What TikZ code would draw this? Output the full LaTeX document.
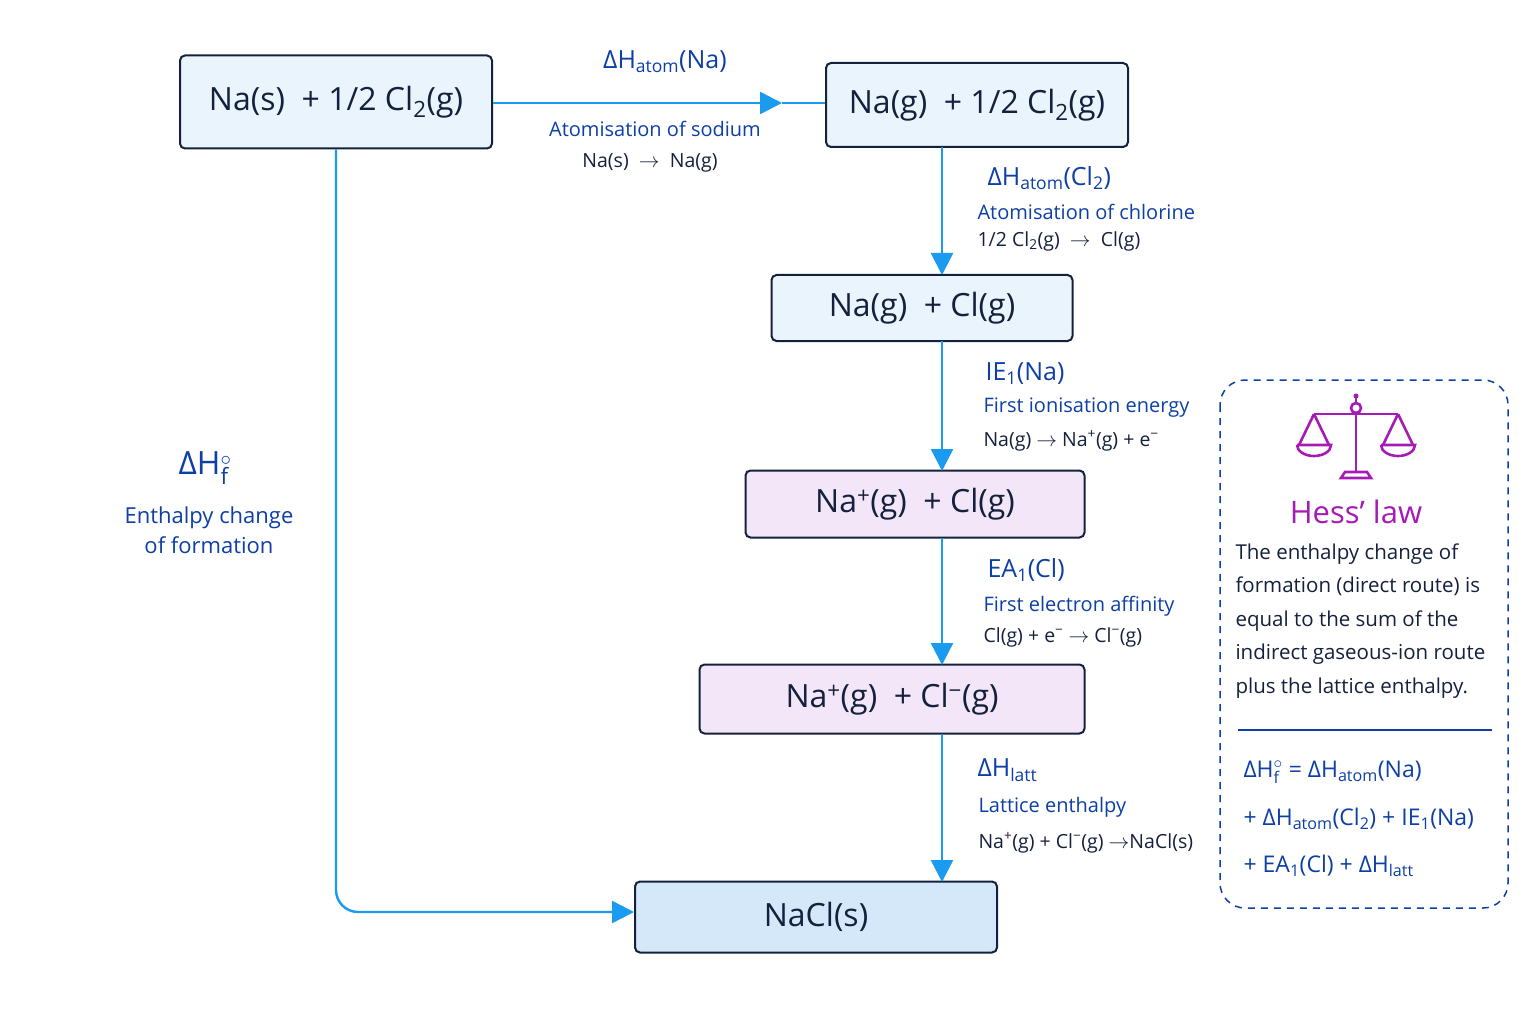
\documentclass[tikz,border=0pt]{standalone}
\usepackage{fontspec}
\setmainfont{Open Sans}
\usetikzlibrary{arrows.meta}
\definecolor{navy}{HTML}{14213D}
\definecolor{lblue}{HTML}{0D3FA6}
\definecolor{arr}{HTML}{1A9BEF}
\definecolor{boxb}{HTML}{EAF4FC}
\definecolor{boxp}{HTML}{F3E6F8}
\definecolor{boxd}{HTML}{D4E8FA}
\definecolor{purp}{HTML}{A61BB5}
\newcommand\lo[1]{\textsubscript{#1}}
\newcommand\hi[1]{\textsuperscript{#1}}
\newcommand\fo{$^{\circ}_{\mathrm{f}}$}
\begin{document}
\begin{tikzpicture}[x=1pt,y=-1pt,
  sp/.style={draw=navy,line width=2pt,rounded corners=5pt,inner sep=0pt,text=navy,font=\fontsize{32}{36}\selectfont},
  conn/.style={draw=arr,line width=2.4pt},
  tip/.style={-{Triangle[length=22pt,width=22pt]}},
  hd/.style={text=lblue,font=\fontsize{25}{28}\selectfont,anchor=west},
  sub/.style={text=lblue,font=\fontsize{20}{22}\selectfont,anchor=west},
  eq/.style={text=navy,font=\fontsize{19.5}{22}\selectfont,anchor=west}]
\useasboundingbox (0,0) rectangle (1536,1024);
\fill[white] (0,0) rectangle (1536,1024);
\node[sp,fill=boxb,minimum width=312pt,minimum height=93pt] (b1) at (336,102) {Na(s) \ + 1/2 Cl\lo{2}(g)};
\node[sp,fill=boxb,minimum width=302pt,minimum height=84pt] (b2) at (977,105) {Na(g) \ + 1/2 Cl\lo{2}(g)};
\node[sp,fill=boxb,minimum width=301pt,minimum height=66pt] (b3) at (922,308) {Na(g) \ + Cl(g)};
\node[sp,fill=boxp,minimum width=339pt,minimum height=67pt] (b4) at (915,504) {Na\hi{+}(g) \ + Cl(g)};
\node[sp,fill=boxp,minimum width=385pt,minimum height=69pt] (b5) at (892,699) {Na\hi{+}(g) \ + Cl\hi{−}(g)};
\node[sp,fill=boxd,minimum width=362pt,minimum height=71pt] (b6) at (816,917) {NaCl(s)};
% connectors
\coordinate (m1) at (782,103);
\draw[conn,tip] (b1.east |- 0,103) -- (m1);
\draw[conn] (m1) -- (b2.west |- 0,103);
\draw[conn,tip] (942,147) -- (942,275);
\draw[conn,tip] (942,341) -- (942,471);
\draw[conn,tip] (942,538) -- (942,665);
\draw[conn,tip] (942,734) -- (942,882);
\draw[conn,tip,rounded corners=22pt] (b1.south) -- (336,912) -- (b6.west |- 0,912);
% labels
\node[text=lblue,font=\fontsize{25}{28}\selectfont] (l1) at (665,62) {ΔH\lo{atom}(Na)};
\node[text=lblue,font=\fontsize{20}{22}\selectfont] (l2) at (655,129) {Atomisation of sodium};
\node[text=navy,font=\fontsize{19.5}{22}\selectfont] (l3) at (650,163) {Na(s) \ $\rightarrow$ \ Na(g)};
\node[hd] (a1) at (984,178) {ΔH\lo{atom}(Cl\lo{2})};
\node[sub] (a2) at (974,212) {Atomisation of chlorine};
\node[eq] (a3) at (974,241) {1/2 Cl\lo{2}(g) \ $\rightarrow$ \ Cl(g)};
\node[hd] (c1) at (982,374) {IE\lo{1}(Na)};
\node[sub] (c2) at (980,408) {First ionisation energy};
\node[eq] (c3) at (980,441) {Na(g) $\rightarrow$ Na\hi{+}(g) + e\hi{−}};
\node[hd] (d1) at (984,570) {EA\lo{1}(Cl)};
\node[sub] (d2) at (980,606) {First electron affinity};
\node[eq] (d3) at (980,637) {Cl(g) + e\hi{−} $\rightarrow$ Cl\hi{−}(g)};
\node[hd] (e1) at (974,770) {ΔH\lo{latt}};
\node[sub] (e2) at (975,807) {Lattice enthalpy};
\node[eq] (e3) at (975,843) {Na\hi{+}(g) + Cl\hi{−}(g) $\rightarrow$NaCl(s)};
\node[text=lblue,font=\fontsize{32}{36}\selectfont] (f1) at (205,468) {ΔH\fo};
\node[text=lblue,font=\fontsize{22}{30}\selectfont,align=center] (f2) at (209,530) {Enthalpy change\\of formation};
% Hess box
\draw[lblue,line width=1.5pt,dash pattern=on 7pt off 6pt,rounded corners=25pt] (1220,380) rectangle (1508,908);
\begin{scope}[purp,line width=2.6pt]
\draw (1356,414) -- (1356,472);
\draw (1314,414) -- (1398,414);
\draw (1356,408) circle (5pt);
\draw (1356,404) -- (1356,398);
\fill (1356,396) circle (2.5pt);
\draw (1341,478) -- (1371,478) -- (1367,472) -- (1345,472) -- cycle;
\draw (1314,414) -- (1299,445) (1314,414) -- (1329,445);
\draw (1398,414) -- (1383,445) (1398,414) -- (1413,445);
\draw (1297,445) -- (1331,445) arc (0:-180:17pt and 11pt);
\draw (1381,445) -- (1415,445) arc (0:-180:17pt and 11pt);
\end{scope}
\node[text=purp,font=\fontsize{31}{34}\selectfont] (h1) at (1356,512) {Hess’ law};
\node[text=navy,font=\fontsize{20.5}{33.5}\selectfont,align=left,anchor=north west] (h2) at (1232,540) {The enthalpy change of\\formation (direct route) is\\equal to the sum of the\\indirect gaseous-ion route\\plus the lattice enthalpy.};
\draw[lblue,line width=1.2pt] (1238,730) -- (1492,730);
\node[text=lblue,font=\fontsize{23}{26}\selectfont,anchor=west] (h3) at (1240,772) {ΔH\fo\ = ΔH\lo{atom}(Na)};
\node[text=lblue,font=\fontsize{23}{26}\selectfont,anchor=west] (h4) at (1240,819) {+ ΔH\lo{atom}(Cl\lo{2}) + IE\lo{1}(Na)};
\node[text=lblue,font=\fontsize{23}{26}\selectfont,anchor=west] (h5) at (1240,866) {+ EA\lo{1}(Cl) + ΔH\lo{latt}};
\end{tikzpicture}
\end{document}
